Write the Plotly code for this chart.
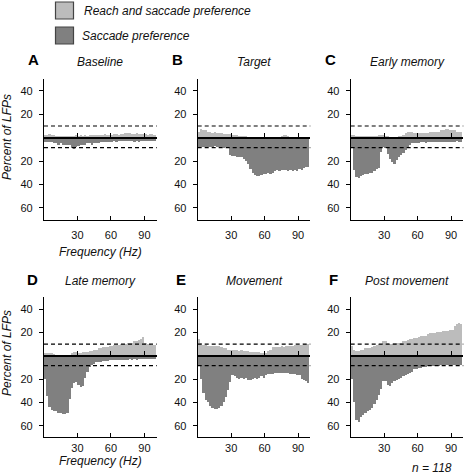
import plotly.graph_objects as go

# ---------------- data ----------------
# 2-Hz frequency bins (bin centres, Hz)
freq = list(range(1, 100, 2))

# percent of LFPs: light = "Reach and saccade preference" (plotted up),
# dark = "Saccade preference" (plotted down)
a_reach = [2,2,3,2,2, 1,1,1,1,1, 1,1,1,1,2, 1,2,1,2,1, 2,2,2,2,2,
           2,2,3,2,2, 2,3,3,2,3, 3,4,4,4,3, 3,4,3,3,3, 3,2,3,3,2]
a_sacc = [4,4,4,4,5, 5,6,5,6,6, 6,6,9,10,8, 7,6,6,6,5, 5,6,5,5,5,
          4,4,4,4,4, 4,3,4,3,3, 3,3,3,3,3, 4,3,4,3,3, 3,3,3,3,3]

b_reach = [5,7,6,6,5, 5,4,5,4,4, 4,3,3,3,3, 2,2,2,1,1, 1,1,0,0,0,
           0,0,0,0,0, 0,0,0,0,0, 0,0,1,2,2, 1,0,0,0,0, 0,0,0,0,0]
b_sacc = [8,8,8,9,8, 8,8,7,8,8, 8,9,8,8,15, 16,16,17,17,17, 18,20,23,27,30,
          32,33,33,32,31, 31,30,31,30,29, 28,29,28,28,28, 29,28,29,28,29, 27,28,26,25,25]

c_reach = [2,2,1,1,1, 1,1,1,1,1, 1,1,2,2,2, 1,1,0,0,0, 0,1,1,2,4,
           5,5,5,4,4, 4,4,4,4,4, 5,5,5,5,5, 6,6,7,7,6, 6,6,5,5,5]
c_sacc = [9,28,34,35,33, 32,31,31,30,30, 29,27,26,12,8, 9,14,18,21,23, 19,17,15,13,11,
          9,6,5,5,5, 5,4,4,5,4, 4,4,4,4,4, 4,4,4,4,4, 4,4,3,4,4]

d_reach = [2,2,2,2,1, 0,0,0,0,0, 0,0,2,3,3, 2,2,3,3,3, 4,4,5,5,6,
           6,7,7,7,8, 8,9,9,9,10, 10,10,11,11,11, 12,12,13,14,16, 11,10,10,9,9]
d_sacc = [20,35,44,47,48, 48,49,49,50,50, 49,37,28,24,23, 25,27,26,19,14, 10,8,7,6,6,
          6,5,5,5,4, 4,4,4,4,4, 4,4,4,3,4, 3,4,3,3,3, 3,3,3,3,3]

e_reach = [14,11,9,9,8, 8,8,8,8,8, 7,6,6,5,5, 5,5,5,4,5, 4,4,4,3,3,
           3,3,3,2,2, 2,4,5,7,7, 7,7,8,7,8, 8,8,8,9,9, 9,9,10,10,10]
e_sacc = [9,20,32,38,40, 43,45,46,46,45, 43,40,36,30,23, 17,18,19,20,19, 20,19,21,21,20,
          19,20,19,18,19, 17,16,16,16,15, 15,15,15,15,15, 15,16,16,16,17, 17,20,21,22,24]

f_reach = [8,5,4,4,5, 5,6,6,6,7, 8,9,10,10,12, 12,11,10,10,11, 11,11,11,12,12,
           13,14,14,15,15, 16,17,17,17,18, 19,19,19,20,20, 20,21,21,21,22, 22,25,27,28,27]
f_sacc = [20,40,55,57,53, 51,49,48,47,45, 42,38,34,29,22, 22,25,26,24,22, 21,20,19,18,17,
          16,15,14,12,12, 11,11,10,10,9, 9,9,9,8,9, 8,9,8,8,8, 8,8,9,8,8]

panel_letters = ["A", "B", "C", "D", "E", "F"]
panel_titles = ["Baseline", "Target", "Early memory", "Late memory", "Movement", "Post movement"]
reach_series = [a_reach, b_reach, c_reach, d_reach, e_reach, f_reach]
sacc_series = [a_sacc, b_sacc, c_sacc, d_sacc, e_sacc, f_sacc]

sig_upper = 10      # chance level, reach+saccade
sig_lower = 8.5     # chance level, saccade
y_tickvals = [40, 20, -20, -40, -60]
y_ticktext = ["40", "20", "20", "40", "60"]
x_tickvals = [30, 60, 90]
n_label = "n = 118"

# ---------------- layout geometry ----------------
W, H = 464, 475
LIGHT = "#bcbcbc"
DARK = "#808080"
FONT = "Arial, Liberation Sans, sans-serif"

col_px = [(44, 156.7), (197.7, 310.3), (350.7, 463.3)]
row_px = [(79.2, 219.6), (297.4, 437.4)]
letter_px = [(33, 60), (177, 60), (330, 60), (32, 279), (181, 279), (333, 279)]
title_y = [62, 281]
tick_standoff = [5, 0]


def px(x):
    return x / W


def py(y):
    return 1 - y / H


fig = go.Figure()
shapes = []
annotations = []
layout = {}

for i in range(6):
    r, c = divmod(i, 3)
    n = i + 1
    xa = "x" if n == 1 else f"x{n}"
    ya = "y" if n == 1 else f"y{n}"
    xz = f"x{n + 6}"
    xd = [px(col_px[c][0]), px(col_px[c][1])]
    yd = [py(row_px[r][1]), py(row_px[r][0])]

    fig.add_bar(x=freq, y=reach_series[i], base=0, width=2, marker_color=LIGHT,
                marker_line_width=0, xaxis=xa, yaxis=ya, showlegend=False,
                name="Reach and saccade preference")
    fig.add_bar(x=freq, y=[-v for v in sacc_series[i]], base=0, width=2,
                marker_color=DARK, marker_line_width=0, xaxis=xa, yaxis=ya,
                showlegend=False, name="Saccade preference")
    fig.add_scatter(x=[50], y=[0], mode="markers", marker_opacity=0,
                    xaxis=xz, yaxis=ya, showlegend=False, hoverinfo="skip")

    k = "" if n == 1 else str(n)
    layout[f"xaxis{k}"] = dict(
        domain=xd, anchor=ya, range=[0, 101], tickvals=x_tickvals,
        ticks="inside", ticklen=4, tickcolor="black", tickwidth=1,
        showline=True, linecolor="black", linewidth=1.2, showgrid=False,
        zeroline=False, tickfont=dict(size=11, color="#111", family=FONT),
        ticklabelstandoff=tick_standoff[r], layer="above traces")
    layout[f"yaxis{k}"] = dict(
        domain=yd, anchor=xa, range=[-70, 50], tickvals=y_tickvals,
        ticktext=y_ticktext, ticks="outside", ticklen=4, tickcolor="black",
        showline=True, linecolor="black", linewidth=1.2, showgrid=False,
        zeroline=False, tickfont=dict(size=11, color="#111", family=FONT),
        ticklabelstandoff=4, layer="above traces")
    zero_pos = yd[0] + (70 / 120) * (yd[1] - yd[0])
    layout[f"xaxis{n + 6}"] = dict(
        overlaying=xa, anchor="free", position=zero_pos, domain=xd,
        range=[0, 101], tickvals=x_tickvals, ticks="inside", ticklen=4,
        tickcolor="black", showticklabels=False, showline=True,
        linecolor="black", linewidth=1.8, showgrid=False, zeroline=False,
        layer="above traces")

    for yv in (sig_upper, -sig_lower):
        shapes.append(dict(type="line", xref=f"{xa} domain", x0=0, x1=1,
                           yref=ya, y0=yv, y1=yv, layer="above",
                           line=dict(color="black", width=1.2, dash="4px,3px")))

    annotations.append(dict(text=f"<b>{panel_letters[i]}</b>", x=px(letter_px[i][0]),
                            y=py(letter_px[i][1]), xref="paper", yref="paper",
                            showarrow=False, font=dict(size=15, family=FONT, color="black"),
                            xanchor="center", yanchor="middle"))
    annotations.append(dict(text=f"<i>{panel_titles[i]}</i>", x=(xd[0] + xd[1]) / 2,
                            y=py(title_y[r]), xref="paper", yref="paper",
                            showarrow=False, font=dict(size=12, family=FONT, color="#111"),
                            xanchor="center", yanchor="middle"))

# axis titles (only on left column)
for yc in (137, 353):
    annotations.append(dict(text="<i>Percent of LFPs</i>", x=px(7), y=py(yc),
                            xref="paper", yref="paper", textangle=-90, showarrow=False,
                            font=dict(size=12, family=FONT, color="#111"),
                            xanchor="center", yanchor="middle"))
for yc in (251.7, 461):
    annotations.append(dict(text="<i>Frequency (Hz)</i>", x=px(100), y=py(yc),
                            xref="paper", yref="paper", showarrow=False,
                            font=dict(size=12, family=FONT, color="#111"),
                            xanchor="center", yanchor="middle"))
annotations.append(dict(text=f"<i>{n_label}</i>", x=px(432), y=py(468),
                        xref="paper", yref="paper", showarrow=False,
                        font=dict(size=12, family=FONT, color="#111"),
                        xanchor="center", yanchor="middle"))

# legend (boxes + labels)
legend_items = [("Reach and saccade preference", LIGHT, 2, 82),
                ("Saccade preference", DARK, 27, 80)]
for label, col, top, tx in legend_items:
    shapes.append(dict(type="rect", xref="paper", yref="paper",
                       x0=px(55.5), x1=px(73.5), y0=py(top + 17), y1=py(top),
                       fillcolor=col, line=dict(color="#444", width=1.2)))
    annotations.append(dict(text=f"<i>{label}</i>", x=px(tx), y=py(top + 8.5),
                            xref="paper", yref="paper", showarrow=False,
                            font=dict(size=12, family=FONT, color="#111"),
                            xanchor="left", yanchor="middle"))

fig.update_layout(
    width=W, height=H, margin=dict(l=0, r=0, t=0, b=0),
    paper_bgcolor="white", plot_bgcolor="white", barmode="overlay",
    bargap=0, showlegend=False, shapes=shapes, annotations=annotations,
    font=dict(family=FONT), **layout)

fig.write_html("out.html",
               config={"displayModeBar": False},
               post_script="document.body.style.margin='0px';"
                           "document.documentElement.style.overflow='hidden';")
